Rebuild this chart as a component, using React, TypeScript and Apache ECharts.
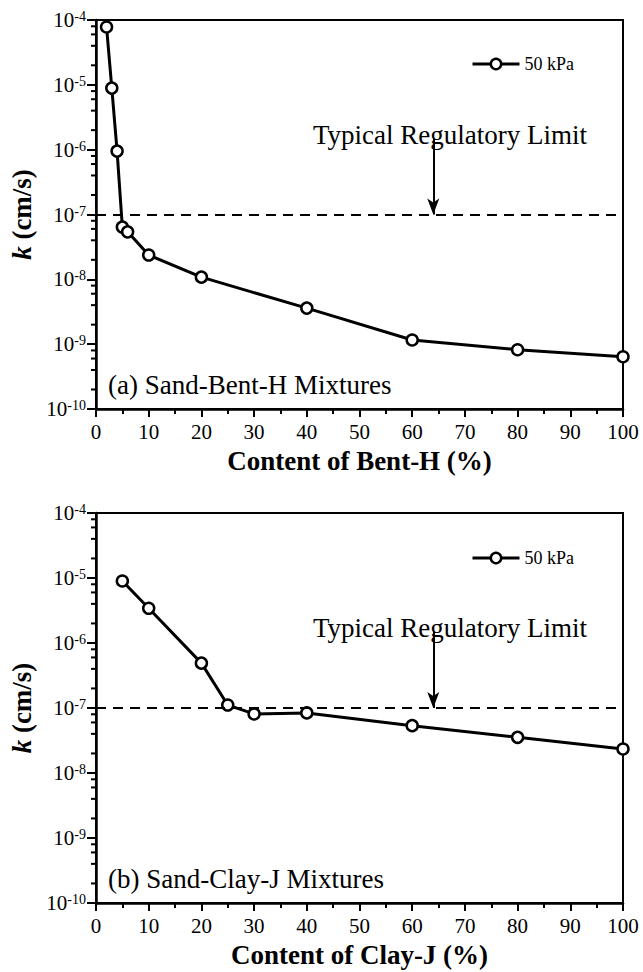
import React, { useEffect, useRef } from "react";
import * as echarts from "echarts";

// Panel (a): sand / Bent-H mixtures
const contentBentH = [2, 3, 4, 5, 6, 10, 20, 40, 60, 80, 100];
const kBentH = [7.8e-5, 8.9e-6, 9.5e-7, 6.4e-8, 5.4e-8, 2.37e-8, 1.08e-8, 3.6e-9, 1.16e-9, 8.2e-10, 6.4e-10];

// Panel (b): sand / Clay-J mixtures
const contentClayJ = [5, 10, 20, 25, 30, 40, 60, 80, 100];
const kClayJ = [9.0e-6, 3.42e-6, 4.9e-7, 1.11e-7, 8.1e-8, 8.4e-8, 5.35e-8, 3.54e-8, 2.34e-8];

const regulatoryLimit = 1e-7;
const arrowTop = 1.5e-6;
const arrowTip = 1.0e-7;
const arrowX = 64;

const seriesName = "50 kPa";
const xTitles = ["Content of Bent-H (%)", "Content of Clay-J (%)"];
const panelLabels = ["(a) Sand-Bent-H Mixtures", "(b) Sand-Clay-J Mixtures"];
const limitText = "Typical Regulatory Limit";

// log-axis minor ticks: mantissas inside each decade
const minorMantissas = [2, 4, 6, 8];
const minorDecades = [-10, -9, -8, -7, -6, -5];

const FONT = "Liberation Serif, Times New Roman, serif";

const grids = [
  { left: 96, top: 20, width: 527, height: 389 },
  { left: 96, top: 513, width: 527, height: 390 },
];
const legendTops = [50, 544];
const limitTextY = [135, 628];
const panelLabelY = [385, 879];

export default function App() {
  const ref = useRef<HTMLDivElement>(null);

  useEffect(() => {
    if (!ref.current) return;
    const chart = echarts.init(ref.current, undefined, { renderer: "svg" });

    const panels = [
      { x: contentBentH, k: kBentH },
      { x: contentClayJ, k: kClayJ },
    ];

    const minorTicks: number[][] = [];
    minorDecades.forEach((d) =>
      minorMantissas.forEach((m) => minorTicks.push([0, m * Math.pow(10, d)]))
    );

    const xAxes = [0, 1].map((i) => ({
      type: "value",
      gridIndex: i,
      min: 0,
      max: 100,
      interval: 10,
      name: xTitles[i],
      nameLocation: "middle",
      nameGap: 38,
      nameTextStyle: { fontFamily: FONT, fontSize: 27, fontWeight: "bold", color: "#000" },
      axisLine: { show: true, onZero: false, lineStyle: { color: "#000", width: 2.5 } },
      axisTick: { show: true, length: 8, lineStyle: { color: "#000", width: 2 } },
      minorTick: { show: true, splitNumber: 2, length: 5, lineStyle: { color: "#000", width: 2 } },
      axisLabel: { fontFamily: FONT, fontSize: 21, color: "#000", margin: 12 },
      splitLine: { show: false },
    }));

    const yAxes = [0, 1].map((i) => ({
      type: "log",
      logBase: 10,
      gridIndex: i,
      min: 1e-10,
      max: 1e-4,
      name: "{i|k} (cm/s)",
      nameLocation: "middle",
      nameGap: 55,
      nameRotate: 90,
      nameTextStyle: {
        fontFamily: FONT,
        fontSize: 27,
        fontWeight: "bold",
        color: "#000",
        rich: {
          i: { fontFamily: FONT, fontSize: 27, fontWeight: "bold", fontStyle: "italic", color: "#000" },
        },
      },
      axisLine: { show: true, onZero: false, lineStyle: { color: "#000", width: 2.5 } },
      axisTick: { show: true, length: 9, lineStyle: { color: "#000", width: 2 } },
      axisLabel: {
        margin: 10,
        formatter: (v: number) => `{b|10}{s|${Math.round(Math.log10(v))}}`,
        rich: {
          b: { fontFamily: FONT, fontSize: 21, color: "#000" },
          s: { fontFamily: FONT, fontSize: 14, color: "#000", verticalAlign: "top" },
        },
      },
      splitLine: { show: false },
    }));

    const series: any[] = [];
    panels.forEach((p, i) => {
      series.push({
        type: "line",
        name: seriesName,
        xAxisIndex: i,
        yAxisIndex: i,
        data: p.x.map((x, j) => [x, p.k[j]]),
        symbol: "circle",
        symbolSize: 11,
        lineStyle: { color: "#000", width: 3 },
        itemStyle: { color: "#fff", borderColor: "#000", borderWidth: 2.5 },
        z: 3,
        markLine: {
          silent: true,
          symbol: "none",
          label: { show: false },
          lineStyle: { color: "#000", width: 2 },
          data: [
            [
              { coord: [0, regulatoryLimit], lineStyle: { type: [10, 7], width: 2, color: "#000" } },
              { coord: [100, regulatoryLimit] },
            ],
            [
              { coord: [arrowX, arrowTop], symbol: "none", lineStyle: { type: "solid", width: 2, color: "#000" } },
              { coord: [arrowX, arrowTip], symbol: "arrow", symbolSize: [9, 16] },
            ],
          ],
        },
      });
      series.push({
        type: "custom",
        xAxisIndex: i,
        yAxisIndex: i,
        silent: true,
        clip: false,
        data: minorTicks,
        renderItem: (_params: any, api: any) => {
          const pt = api.coord([api.value(0), api.value(1)]);
          return {
            type: "line",
            shape: { x1: pt[0] - 5, y1: pt[1], x2: pt[0], y2: pt[1] },
            style: { stroke: "#000", lineWidth: 2 },
          };
        },
      });
    });

    const graphic: any[] = [];
    [0, 1].forEach((i) => {
      graphic.push({
        type: "text",
        x: 313,
        y: limitTextY[i],
        silent: true,
        style: { text: limitText, fontFamily: FONT, fontSize: 27, fill: "#000", verticalAlign: "middle" },
      });
      graphic.push({
        type: "text",
        x: 108,
        y: panelLabelY[i],
        silent: true,
        style: { text: panelLabels[i], fontFamily: FONT, fontSize: 27, fill: "#000", verticalAlign: "middle" },
      });
    });

    chart.setOption({
      animation: false,
      backgroundColor: "#fff",
      grid: grids.map((g) => ({ ...g, show: true, borderColor: "#000", borderWidth: 2, backgroundColor: "transparent" })),
      xAxis: xAxes,
      yAxis: yAxes,
      legend: [0, 1].map((i) => ({
        data: [seriesName],
        left: 466,
        top: legendTops[i],
        itemWidth: 47,
        itemHeight: 13,
        selectedMode: false,
        lineStyle: { width: 3, color: "#000" },
        itemStyle: { color: "#fff", borderColor: "#000", borderWidth: 2.5 },
        textStyle: { fontFamily: FONT, fontSize: 18, color: "#000" },
      })),
      series,
      graphic,
    });

    return () => chart.dispose();
  }, []);

  return (
    <div
      ref={ref}
      style={{ position: "fixed", left: 0, top: 0, width: 643, height: 972, background: "#fff" }}
    />
  );
}
